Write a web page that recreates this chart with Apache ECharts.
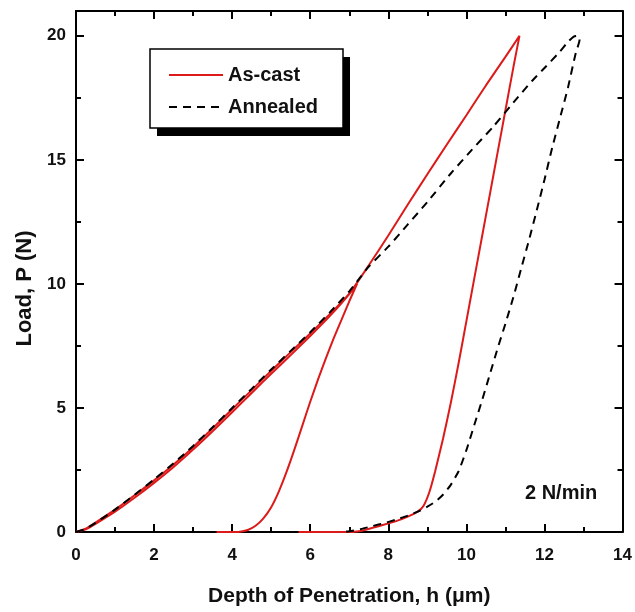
<!DOCTYPE html>
<html>
<head>
<meta charset="utf-8">
<script src="https://cdn.jsdelivr.net/npm/echarts@6/dist/echarts.min.js"></script>
<style>
html,body{margin:0;padding:0;background:#fff;}
#chart{width:635px;height:612px;}
</style>
</head>
<body>
<div id="chart"></div>
<script>
// ---- Data ----
const xTickLabels = [0, 2, 4, 6, 8, 10, 12, 14];
const xMinorTicks = [1, 3, 5, 7, 9, 11, 13];
const yTickLabels = [0, 5, 10, 15, 20];
const yMinorTicks = [2.5, 7.5, 12.5, 17.5];

// As-cast, 10 N cycle (loading then unloading)
const asCast10N_x = [0, 0.25, 0.5, 1, 1.5, 2, 2.5, 3, 3.5, 4, 4.5, 5, 5.5, 6, 6.5, 7, 7.2,
  7.0, 6.8, 6.6, 6.4, 6.2, 6.0, 5.8, 5.6, 5.4, 5.2, 5.0, 4.8, 4.6, 4.4, 4.2, 4.1, 3.6];
const asCast10N_y = [0, 0.14, 0.38, 0.9, 1.48, 2.08, 2.72, 3.42, 4.18, 4.95, 5.72, 6.5, 7.25, 8.0, 8.78, 9.6, 10.0,
  9.3, 8.55, 7.8, 7.0, 6.15, 5.25, 4.3, 3.35, 2.45, 1.65, 1.0, 0.55, 0.25, 0.08, 0.01, 0, 0];

// As-cast, 20 N cycle (loading then unloading)
const asCast20N_x = [0, 0.25, 0.5, 1, 1.5, 2, 2.5, 3, 3.5, 4, 4.5, 5, 5.5, 6, 6.5, 7, 7.5, 8, 8.5, 9, 9.5, 10, 10.5, 11, 11.36,
  11.2, 11.0, 10.8, 10.6, 10.4, 10.2, 10.0, 9.8, 9.6, 9.4, 9.2, 9.05, 8.9, 8.75, 8.5, 8.2, 7.9, 7.6, 7.4, 7.2, 7.0, 5.7];
const asCast20N_y = [0, 0.11, 0.33, 0.82, 1.38, 1.98, 2.62, 3.32, 4.06, 4.83, 5.6, 6.38, 7.13, 7.9, 8.7, 9.6, 10.75, 11.95, 13.2, 14.42, 15.62, 16.8, 18.0, 19.15, 20.0,
  18.7, 17.0, 15.3, 13.6, 11.9, 10.2, 8.5, 6.8, 5.2, 3.75, 2.45, 1.6, 1.05, 0.82, 0.62, 0.44, 0.3, 0.17, 0.08, 0.02, 0, 0];

// Annealed, 20 N cycle (loading then unloading)
const annealed_x = [0, 0.25, 0.5, 1, 1.5, 2, 2.5, 3, 3.5, 4, 4.5, 5, 5.5, 6, 6.5, 7, 7.25, 7.5, 8, 8.5, 9, 9.6, 10.15, 10.7, 11.2, 11.68, 12.0, 12.37, 12.6, 12.75, 12.85, 12.9,
  12.8, 12.6, 12.4, 12.2, 12.0, 11.8, 11.6, 11.4, 11.2, 11.0, 10.8, 10.6, 10.4, 10.2, 10.0, 9.8, 9.6, 9.4, 9.2, 9.0, 8.8, 8.5, 8.2, 7.9, 7.6, 7.3, 7.0, 6.8];
const annealed_y = [0, 0.13, 0.37, 0.9, 1.5, 2.12, 2.77, 3.47, 4.22, 5.0, 5.77, 6.55, 7.3, 8.05, 8.85, 9.7, 10.2, 10.7, 11.5, 12.4, 13.3, 14.45, 15.42, 16.36, 17.3, 18.18, 18.7, 19.32, 19.75, 19.97, 20.0, 19.85,
  19.3, 17.9, 16.7, 15.5, 14.2, 12.95, 11.75, 10.6, 9.45, 8.4, 7.4, 6.35, 5.3, 4.3, 3.3, 2.45, 1.9, 1.5, 1.22, 1.02, 0.85, 0.66, 0.5, 0.36, 0.24, 0.12, 0.03, 0];

const seriesNames = ['As-cast', 'Annealed'];
const annotationText = '2 N/min';

function zip(xs, ys) { return xs.map((x, i) => [x, ys[i]]); }

const FONT = '"Liberation Sans", Arial, sans-serif';
const RED = '#dc1a1a';

function xAxisDef(pos, major, withLabels) {
  return {
    type: 'value', min: 0, max: 14, position: pos,
    axisLine: { show: major, onZero: false, lineStyle: { color: '#000', width: 2 } },
    axisTick: { show: true, inside: true, length: major ? 8 : 5, lineStyle: { color: '#000', width: 2 },
      customValues: major ? xTickLabels : xMinorTicks },
    axisLabel: withLabels ? { show: true, customValues: xTickLabels, margin: 15, color: '#111',
      fontFamily: FONT, fontWeight: 'bold', fontSize: 17 } : { show: false },
    splitLine: { show: false }
  };
}
function yAxisDef(pos, major, withLabels) {
  return {
    type: 'value', min: 0, max: 21, position: pos,
    axisLine: { show: major, onZero: false, lineStyle: { color: '#000', width: 2 } },
    axisTick: { show: true, inside: true, length: major ? 8 : 5, lineStyle: { color: '#000', width: 2 },
      customValues: major ? yTickLabels : yMinorTicks },
    axisLabel: withLabels ? { show: true, customValues: yTickLabels, margin: 10, color: '#111',
      fontFamily: FONT, fontWeight: 'bold', fontSize: 17 } : { show: false },
    splitLine: { show: false }
  };
}

const xA = xAxisDef('bottom', true, true);
xA.name = 'Depth of Penetration, h (\u03bcm)';
xA.nameLocation = 'middle';
xA.nameGap = 54;
xA.nameTextStyle = { fontFamily: FONT, fontWeight: 'bold', fontSize: 21, color: '#111' };

const yA = yAxisDef('left', true, true);
yA.name = 'Load, P (N)';
yA.nameLocation = 'middle';
yA.nameGap = 37;
yA.nameTextStyle = { fontFamily: FONT, fontWeight: 'bold', fontSize: 22, color: '#111', padding: [0, 34, 0, 0] };

const chart = echarts.init(document.getElementById('chart'), null, { renderer: 'canvas' });
chart.setOption({
  backgroundColor: '#fff',
  animation: false,
  grid: { left: 76, right: 10, top: 11, bottom: 79 },
  xAxis: [xA, xAxisDef('bottom', false, false), xAxisDef('top', true, false), xAxisDef('top', false, false)],
  yAxis: [yA, yAxisDef('left', false, false), yAxisDef('right', true, false), yAxisDef('right', false, false)],
  legend: {
    data: seriesNames,
    orient: 'vertical',
    left: 151, top: 50,
    z: 10,
    padding: [15, 10, 15, 17],
    itemWidth: 54, itemHeight: 17, itemGap: 12,
    itemStyle: { opacity: 0 },
    textStyle: { fontFamily: FONT, fontWeight: 'bold', fontSize: 20, color: '#111' }
  },
  graphic: [
    { type: 'rect', z: 8, shape: { x: 157, y: 57, width: 193, height: 79 }, style: { fill: '#000' } },
    { type: 'rect', z: 9, shape: { x: 150, y: 49, width: 193, height: 79 },
      style: { fill: '#fff', stroke: '#000', lineWidth: 1.5 } },
    { type: 'text', left: 525, top: 483, z: 9,
      style: { text: annotationText, font: 'bold 20px "Liberation Sans", Arial, sans-serif', fill: '#111' } }
  ],
  series: [
    { name: seriesNames[0], type: 'line', data: zip(asCast10N_x, asCast10N_y), showSymbol: false, symbol: 'none',
      smooth: 0.2, lineStyle: { color: RED, width: 2 }, itemStyle: { color: RED } },
    { name: seriesNames[0], type: 'line', data: zip(asCast20N_x, asCast20N_y), showSymbol: false, symbol: 'none',
      smooth: 0.2, lineStyle: { color: RED, width: 2 }, itemStyle: { color: RED } },
    { name: seriesNames[1], type: 'line', data: zip(annealed_x, annealed_y), showSymbol: false, symbol: 'none',
      smooth: 0.2, lineStyle: { color: '#000', width: 2, type: [8, 6] }, itemStyle: { color: '#000' } }
  ]
});
</script>
</body>
</html>
